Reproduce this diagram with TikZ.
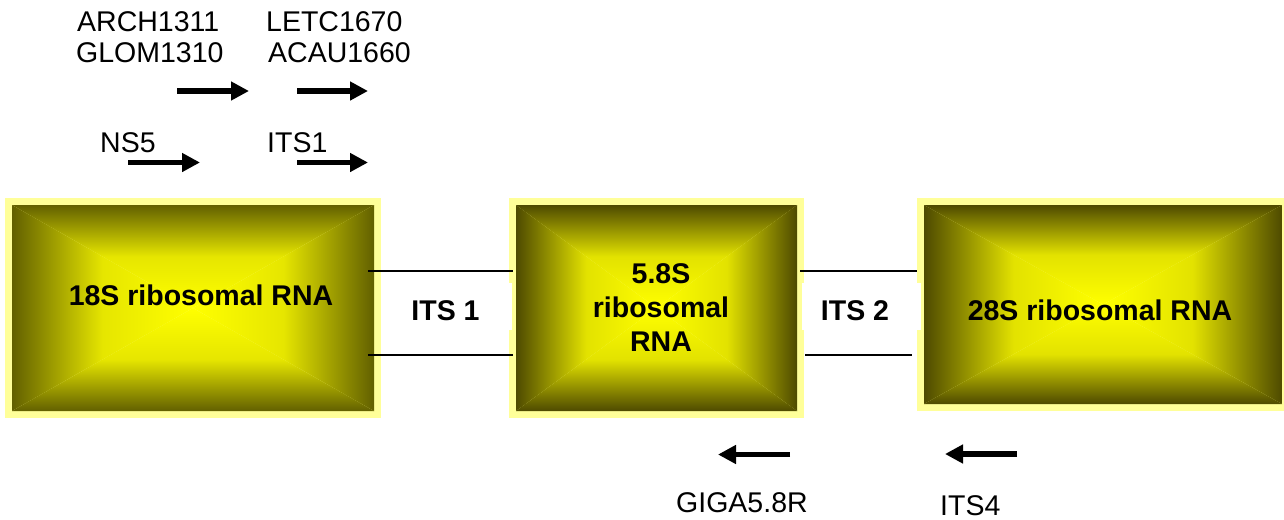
\documentclass[tikz,border=0pt]{standalone}
\usepackage{fontspec}
\setmainfont{Liberation Sans}
\usetikzlibrary{arrows.meta}
\definecolor{bordery}{RGB}{255,255,153}
\definecolor{edgeA}{RGB}{98,96,0}
\definecolor{edgeB}{RGB}{78,74,0}
\definecolor{coreY}{RGB}{255,255,0}
\tikzset{
  rnabox/.style={fill=bordery, draw=none, inner sep=0pt, outer sep=0pt,
    path picture={
      \coordinate (pNW) at ([xshift=7pt,yshift=-7pt]path picture bounding box.north west);
      \coordinate (pNE) at ([xshift=-7pt,yshift=-7pt]path picture bounding box.north east);
      \coordinate (pSW) at ([xshift=7pt,yshift=7pt]path picture bounding box.south west);
      \coordinate (pSE) at ([xshift=-7pt,yshift=7pt]path picture bounding box.south east);
      \coordinate (pC) at (path picture bounding box.center);
      \shade[bottom color=coreY, top color=#1, middle color=coreY!84!#1] (pNW) -- (pNE) -- (pC) -- cycle;
      \shade[top color=coreY, bottom color=#1, middle color=coreY!84!#1] (pSW) -- (pSE) -- (pC) -- cycle;
      \shade[right color=coreY, left color=#1, middle color=coreY!84!#1] (pNW) -- (pSW) -- (pC) -- cycle;
      \shade[left color=coreY, right color=#1, middle color=coreY!84!#1] (pNE) -- (pSE) -- (pC) -- cycle;
    }},
  whitepatch/.style={fill=white, draw=none, inner sep=0pt, outer sep=0pt},
  lbl/.style={font=\fontsize{28.5}{34}\selectfont, inner sep=0pt, anchor=base west},
  boldlbl/.style={font=\fontsize{28.5}{34}\selectfont\bfseries, inner sep=0pt, align=center},
  primer/.style={line width=5.5pt, -{Triangle[length=18pt,width=18pt]}},
  itsline/.style={line width=1.8pt}
}
\begin{document}
\begin{tikzpicture}[x=1pt,y=-1pt]
\clip (0,0) rectangle (1284,519);
% boxes
\node[rnabox=edgeA, minimum width=376pt, minimum height=220pt] (b18) at (193,308) {};
\node[rnabox=edgeB, minimum width=295pt, minimum height=220pt] (b58) at (656.5,308) {};
\node[rnabox=edgeB, minimum width=372pt, minimum height=213pt] (b28) at (1103,304.5) {};
% ITS lines
\coordinate (l1a) at (368,271); \coordinate (l1b) at (513,271);
\coordinate (l2a) at (368,355); \coordinate (l2b) at (513,355);
\coordinate (l3a) at (800,271); \coordinate (l3b) at (917,271);
\coordinate (l4a) at (805,355); \coordinate (l4b) at (912,355);
\draw[itsline] (l1a) -- (l1b);
\draw[itsline] (l2a) -- (l2b);
\draw[itsline] (l3a) -- (l3b);
\draw[itsline] (l4a) -- (l4b);
% white patches behind ITS labels
\node[whitepatch, minimum width=131pt, minimum height=47pt] (w1) at (446.5,306.5) {};
\node[whitepatch, minimum width=119pt, minimum height=47pt] (w2) at (861.5,306.5) {};
% box texts
\node[boldlbl, anchor=base] (t18) at (201,305) {18S ribosomal RNA};
\node[boldlbl, anchor=center] (t58) at (661,308) {5.8S\\ribosomal\\RNA};
\node[boldlbl, anchor=base] (t28) at (1100,320) {28S ribosomal RNA};
\node[boldlbl, anchor=base] (its1) at (445.5,320) {ITS 1};
\node[boldlbl, anchor=base] (its2) at (855,320) {ITS 2};
% primer labels
\node[lbl] (arch) at (77,32) {ARCH1311};
\node[lbl] (glom) at (76,63) {GLOM1310};
\node[lbl] (letc) at (266,32) {LETC1670};
\node[lbl] (acau) at (268,63) {ACAU1660};
\node[lbl] (ns5) at (100,152) {NS5};
\node[lbl] (its1p) at (267,152) {ITS1};
\node[lbl] (giga) at (676,512) {GIGA5.8R};
\node[lbl] (its4) at (940,515) {ITS4};
% primer arrows
\coordinate (a1s) at (177,91);  \coordinate (a1e) at (249,91);
\coordinate (a2s) at (297,91);  \coordinate (a2e) at (368,91);
\coordinate (a3s) at (128,162.5); \coordinate (a3e) at (200,162.5);
\coordinate (a4s) at (297,162.5); \coordinate (a4e) at (368,162.5);
\coordinate (a5s) at (790,454.5); \coordinate (a5e) at (718,454.5);
\coordinate (a6s) at (1017,454); \coordinate (a6e) at (945,454);
\draw[primer] (a1s) -- (a1e);
\draw[primer] (a2s) -- (a2e);
\draw[primer] (a3s) -- (a3e);
\draw[primer] (a4s) -- (a4e);
\draw[primer] (a5s) -- (a5e);
\draw[primer] (a6s) -- (a6e);
\end{tikzpicture}
\end{document}
